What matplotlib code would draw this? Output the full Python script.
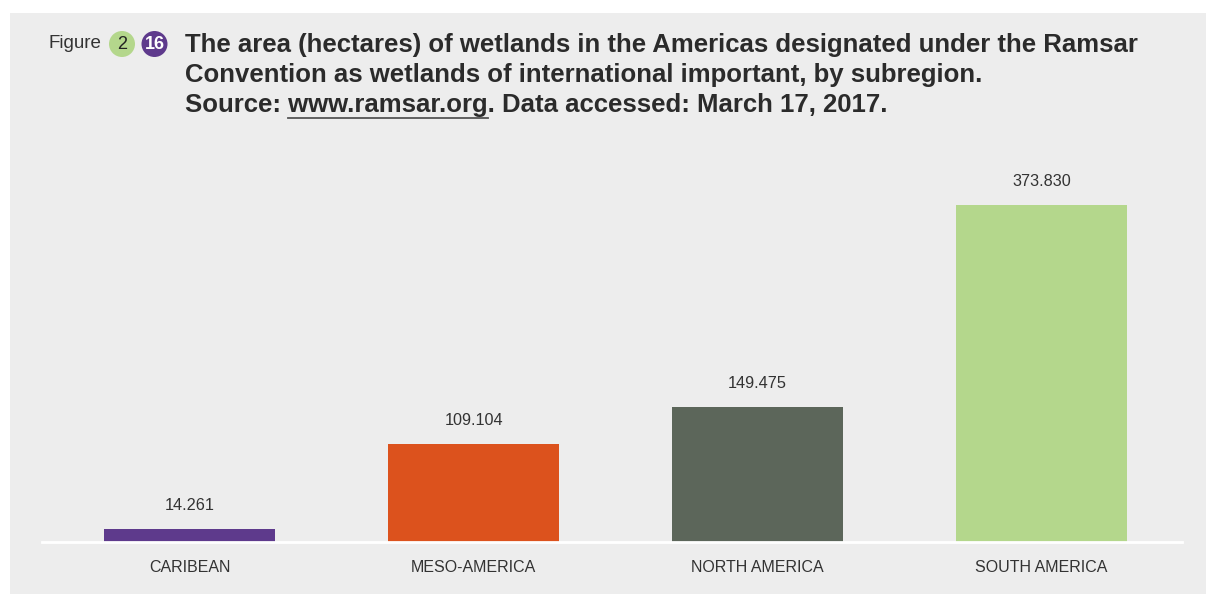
import matplotlib
matplotlib.use("Agg")
import matplotlib.pyplot as plt
from matplotlib.patches import Rectangle, Ellipse
from matplotlib.lines import Line2D

categories = ["CARIBEAN", "MESO-AMERICA", "NORTH AMERICA", "SOUTH AMERICA"]
values = [14.261, 109.104, 149.475, 373.830]
value_labels = ["14.261", "109.104", "149.475", "373.830"]
colors = ["#5E3A8C", "#DC521D", "#5C665A", "#B4D78C"]

title_line1 = "The area (hectares) of wetlands in the Americas designated under the Ramsar"
title_line2 = "Convention as wetlands of international important, by subregion."
src_a = "Source: "
src_link = "www.ramsar.org"
src_b = ". Data accessed: March 17, 2017."

plt.rcParams['font.family'] = ['Liberation Sans', 'DejaVu Sans']

W, H = 1206, 594
fig = plt.figure(figsize=(W / 100, H / 100), dpi=100)
fig.patch.set_facecolor("white")

bg = "#EDEDED"
fig.add_artist(Rectangle((10 / W, 0), 1 - 10 / W, 1 - 13 / H, transform=fig.transFigure,
                         facecolor=bg, edgecolor="none", zorder=0))

ax = fig.add_axes([42 / W, 1 - 542 / H, (1182 - 42) / W, (542 - 150) / H])
ax.set_facecolor("none")
x = range(len(categories))
ax.bar(x, values, width=0.602, color=colors, zorder=2)
ax.set_xlim(-0.52, 3.495)
ax.set_ylim(0, 434.8)
for s in ["top", "right", "left"]:
    ax.spines[s].set_visible(False)
ax.spines["bottom"].set_color("white")
ax.spines["bottom"].set_linewidth(2)
ax.spines["bottom"].set_zorder(3)
ax.set_yticks([])
ax.set_xticks(list(x))
ax.set_xticklabels(categories, fontsize=11.5, color="#333333")
ax.tick_params(axis="x", length=0, pad=13)

for xi, v, lab in zip(x, values, value_labels):
    ax.annotate(lab, (xi, v), xytext=(0, 17), textcoords="offset points",
                ha="center", va="center", fontsize=11.7, color="#333333")

# Header
fig.text(48 / W, 1 - 44 / H, "Figure", fontsize=13.5, color="#333333", va="center", ha="left")
r = 13
fig.add_artist(Ellipse((122 / W, 1 - 44 / H), 2 * r / W, 2 * r / H, transform=fig.transFigure,
                       facecolor="#B4D78C", edgecolor="none"))
fig.add_artist(Ellipse((154.5 / W, 1 - 44 / H), 2 * r / W, 2 * r / H, transform=fig.transFigure,
                       facecolor="#5E3A8C", edgecolor="none"))
fig.text(122 / W, 1 - 44.5 / H, "2", fontsize=13, color="#222222", ha="center", va="center")
fig.text(154.5 / W, 1 - 44.5 / H, "16", fontsize=13, color="white", ha="center", va="center",
         fontweight="bold")

tx = 185 / W
tfs = 18.5
tcol = "#2b2b2b"
fig.text(tx, 1 - 45 / H, title_line1, fontsize=tfs, fontweight="bold", color=tcol, va="center")
fig.text(tx, 1 - 75 / H, title_line2, fontsize=tfs, fontweight="bold", color=tcol, va="center")
full = src_a + src_link + src_b
fig.text(tx, 1 - 105 / H, full, fontsize=tfs, fontweight="bold", color=tcol, va="center")

fig.canvas.draw()
rend = fig.canvas.get_renderer()
ta = fig.text(tx, 1 - 105 / H, src_a, fontsize=tfs, fontweight="bold", va="center", alpha=0)
tb = fig.text(tx, 1 - 105 / H, src_a + src_link, fontsize=tfs, fontweight="bold", va="center", alpha=0)
ea = ta.get_window_extent(rend)
eb = tb.get_window_extent(rend)
ta.set_visible(False)
tb.set_visible(False)
uy = 1 - 118 / H
fig.add_artist(Line2D([ea.x1 / W, eb.x1 / W], [uy, uy], transform=fig.transFigure,
                      color="#555555", linewidth=1.3))

fig.savefig("out.png", dpi=100, facecolor=fig.get_facecolor())
